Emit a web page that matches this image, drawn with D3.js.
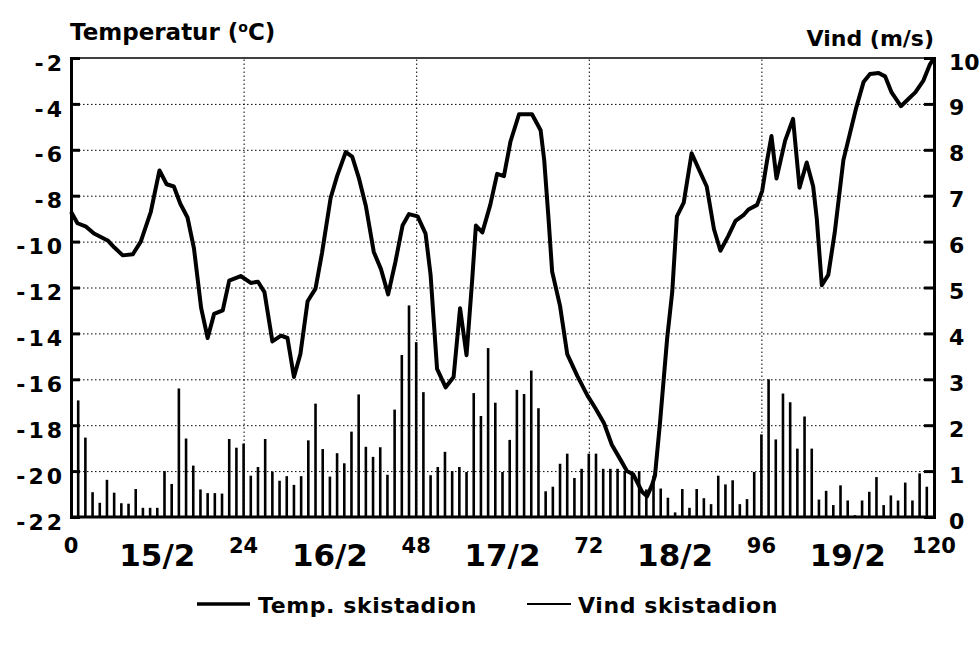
<!DOCTYPE html>
<meta charset="utf-8">
<style>
body { margin: 0; background: #fff; }
svg { font-family: "DejaVu Sans", "Liberation Sans", sans-serif; font-weight: bold; }
.grid line { stroke: #000; stroke-width: 1px; stroke-dasharray: 1.5,2.5; }
.grid path { display: none; }
</style>
<svg width="980" height="646"></svg>
<script src="https://d3js.org/d3.v7.min.js"></script>
<script>

// temperatur, timer fra start
var tempHours = [0,0.9,2.1,3.2,5.1,6,7.2,8.6,9.7,11.1,12.3,13.3,14.3,15.2,16.2,17.1,18.1,19,19.9,21.1,
  22,23.6,25,26,26.9,28,29.2,30.1,31,31.9,32.9,34,34.9,36.1,37,38.2,39.1,40,41,42.1,
  43.1,44.1,45.1,46.1,47,48.2,49.3,50,50.9,52.1,53.2,54.1,55,55.8,56.3,57.2,58.3,59.25,60.2,61.1,
  62.3,64.1,65.3,65.8,66.4,66.9,68,69,70.4,71.8,72.9,74.1,75.2,76.4,77.3,78.2,79.4,80.1,80.8,81.2,
  81.9,82.9,83.6,84.25,85.2,86.3,87.3,88.4,89.4,90.3,91.4,92.4,93.5,94.2,95.4,96.1,96.8,97.4,98.1,99.3,
  100.4,101.3,102.3,103.2,103.7,104.4,105.3,106.2,107.4,108.3,109.2,110.2,111.1,112.3,113.2,114.1,115.4,116.4,117.4,118.5,
  119.4,120];
var tempValues = [-8.7,-9.2,-9.35,-9.65,-9.95,-10.25,-10.6,-10.55,-10,-8.7,-6.9,-7.5,-7.6,-8.35,-8.95,-10.3,-12.9,-14.2,-13.15,-13,
  -11.7,-11.5,-11.8,-11.75,-12.2,-14.35,-14.1,-14.2,-15.9,-14.9,-12.6,-12.05,-10.5,-8.1,-7.15,-6.1,-6.3,-7.2,-8.45,-10.45,
  -11.2,-12.3,-10.9,-9.3,-8.8,-8.9,-9.65,-11.45,-15.55,-16.35,-15.9,-12.9,-14.95,-11.6,-9.3,-9.6,-8.4,-7.05,-7.15,-5.65,
  -4.45,-4.45,-5.15,-6.45,-9,-11.3,-12.8,-14.9,-15.85,-16.7,-17.25,-17.9,-18.85,-19.5,-20,-20.15,-20.9,-21.1,-20.6,-20.2,
  -17.9,-14.2,-12.2,-8.9,-8.3,-6.15,-6.85,-7.6,-9.45,-10.4,-9.75,-9.1,-8.85,-8.6,-8.4,-7.8,-6.45,-5.4,-7.25,-5.6,
  -4.65,-7.65,-6.55,-7.6,-9,-11.9,-11.45,-9.6,-6.45,-5.3,-4.15,-3.05,-2.7,-2.65,-2.8,-3.5,-4.1,-3.8,-3.5,-3,
  -2.3,-2];

// vind (m/s), en verdi per time, time 1..119
var windValues = [2.54,1.73,0.54,0.31,0.81,0.53,0.3,0.29,0.61,0.2,0.2,0.2,1,0.72,2.8,1.71,1.12,0.6,0.52,0.52,
  0.51,1.7,1.51,1.6,0.9,1.09,1.7,0.99,0.79,0.89,0.7,0.89,1.67,2.47,1.48,0.88,1.39,1.17,1.86,2.67,
  1.53,1.31,1.52,0.92,2.34,3.53,4.61,3.81,2.72,0.91,1.09,1.42,1,1.09,0.98,2.7,2.2,3.68,2.49,0.98,
  1.68,2.77,2.68,3.19,2.37,0.56,0.66,1.16,1.38,0.85,1.05,1.38,1.38,1.05,1.05,1.05,1,1,1,0.6,
  0.9,0.62,0.42,0.1,0.61,0.2,0.61,0.41,0.28,0.9,0.71,0.8,0.28,0.39,0.98,1.8,3,1.69,2.69,2.5,
  1.49,2.19,1.49,0.38,0.57,0.26,0.69,0.36,0.04,0.36,0.55,0.87,0.26,0.47,0.36,0.75,0.36,0.95,0.66];

var tempTicks = [-2,-4,-6,-8,-10,-12,-14,-16,-18,-20,-22];
var windTicks = [0,1,2,3,4,5,6,7,8,9,10];
var hourTicks = [0,24,48,72,96,120];
var dayLabels = ["15/2","16/2","17/2","18/2","19/2"];
var dayHours = [12,36,60,84,108];

var svg = d3.select("svg"),
    plotLeft = 71, plotRight = 934, plotTop = 58, plotBottom = 517;

var x = d3.scaleLinear().domain([0, 120]).range([plotLeft, plotRight]);
var yT = d3.scaleLinear().domain([-22, -2]).range([plotBottom, plotTop]);
var yW = d3.scaleLinear().domain([0, 10]).range([plotBottom, plotTop]);

// rutenett
svg.append("g").attr("class", "grid")
    .attr("transform", "translate(" + plotLeft + ",0)")
    .call(d3.axisLeft(yT).tickValues(tempTicks.slice(1, -1)).tickSize(-(plotRight - plotLeft)).tickFormat(""));
svg.append("g").attr("class", "grid")
    .attr("transform", "translate(0," + plotBottom + ")")
    .call(d3.axisBottom(x).tickValues([24, 48, 72, 96]).tickSize(-(plotBottom - plotTop)).tickFormat(""));

// vindsøyler
svg.append("g").selectAll("line")
    .data(windValues)
    .enter().append("line")
    .attr("x1", function(d, i) { return x(i + 1); })
    .attr("x2", function(d, i) { return x(i + 1); })
    .attr("y1", yW(0))
    .attr("y2", function(d) { return yW(d); })
    .attr("stroke", "#000")
    .attr("stroke-width", 2.6);

// temperatur
var line = d3.line()
    .x(function(d, i) { return x(tempHours[i]); })
    .y(function(d) { return yT(d); });

svg.append("path")
    .datum(tempValues)
    .attr("d", line)
    .attr("fill", "none")
    .attr("stroke", "#000")
    .attr("stroke-width", 4)
    .attr("stroke-linejoin", "round");

// akser
var leftAxis = svg.append("g")
    .attr("transform", "translate(" + plotLeft + ",0)")
    .call(d3.axisLeft(yT).tickValues(tempTicks).tickSize(-9).tickPadding(6)
      .tickFormat(function(d) { return d; }));
leftAxis.select(".domain").attr("stroke-width", 3);
leftAxis.selectAll(".tick line").attr("stroke-width", 3);
leftAxis.selectAll("text")
    .attr("font-size", 22)
    .attr("letter-spacing", 3)
    .attr("dy", "0.55em")
    .attr("font-family", "DejaVu Sans, sans-serif")
    .attr("fill", "#000");

var rightAxis = svg.append("g")
    .attr("transform", "translate(" + plotRight + ",0)")
    .call(d3.axisRight(yW).tickValues(windTicks).tickSize(-10).tickPadding(15));
rightAxis.select(".domain").attr("stroke-width", 3);
rightAxis.selectAll(".tick line").attr("stroke-width", 3);
rightAxis.selectAll("text")
    .attr("font-size", 22)
    .attr("dy", "0.5em")
    .attr("font-family", "DejaVu Sans, sans-serif")
    .attr("fill", "#000");

svg.append("line")
    .attr("x1", plotLeft).attr("x2", plotRight).attr("y1", plotTop).attr("y2", plotTop)
    .attr("stroke", "#000").attr("stroke-width", 1.5);
svg.append("line")
    .attr("x1", plotLeft).attr("x2", plotRight).attr("y1", plotBottom).attr("y2", plotBottom)
    .attr("stroke", "#000").attr("stroke-width", 3);

// x-etiketter
svg.append("g").selectAll("text")
    .data(hourTicks)
    .enter().append("text")
    .attr("x", function(d) { return x(d); })
    .attr("y", 553)
    .attr("text-anchor", "middle")
    .attr("font-size", 21)
    .text(function(d) { return d; });

svg.append("g").selectAll("text")
    .data(dayLabels)
    .enter().append("text")
    .attr("x", function(d, i) { return x(dayHours[i]); })
    .attr("y", 566)
    .attr("text-anchor", "middle")
    .attr("font-size", 31)
    .text(function(d) { return d; });

// titler
var t = svg.append("text").attr("x", 70).attr("y", 40).attr("font-size", 23);
t.append("tspan").text("Temperatur (");
t.append("tspan").attr("dy", -8).attr("font-size", 14).text("o");
t.append("tspan").attr("dy", 8).text("C)");

svg.append("text")
    .attr("x", 934).attr("y", 46)
    .attr("text-anchor", "end")
    .attr("font-size", 22)
    .text("Vind (m/s)");

// forklaring
var legend = [
  { label: "Temp. skistadion", x: 197, w: 3.5 },
  { label: "Vind skistadion", x: 527, w: 1.8 }
];
var lg = svg.append("g").selectAll("g")
    .data(legend)
    .enter().append("g")
    .attr("transform", function(d) { return "translate(" + d.x + ",604)"; });
lg.append("line")
    .attr("x1", 0).attr("x2", function(d, i) { return i ? 44 : 53; })
    .attr("stroke", "#000")
    .attr("stroke-width", function(d) { return d.w; });
lg.append("text")
    .attr("x", function(d, i) { return i ? 51 : 61; })
    .attr("y", 9)
    .attr("font-size", 22)
    .attr("letter-spacing", 0.6)
    .text(function(d) { return d.label; });

</script>
